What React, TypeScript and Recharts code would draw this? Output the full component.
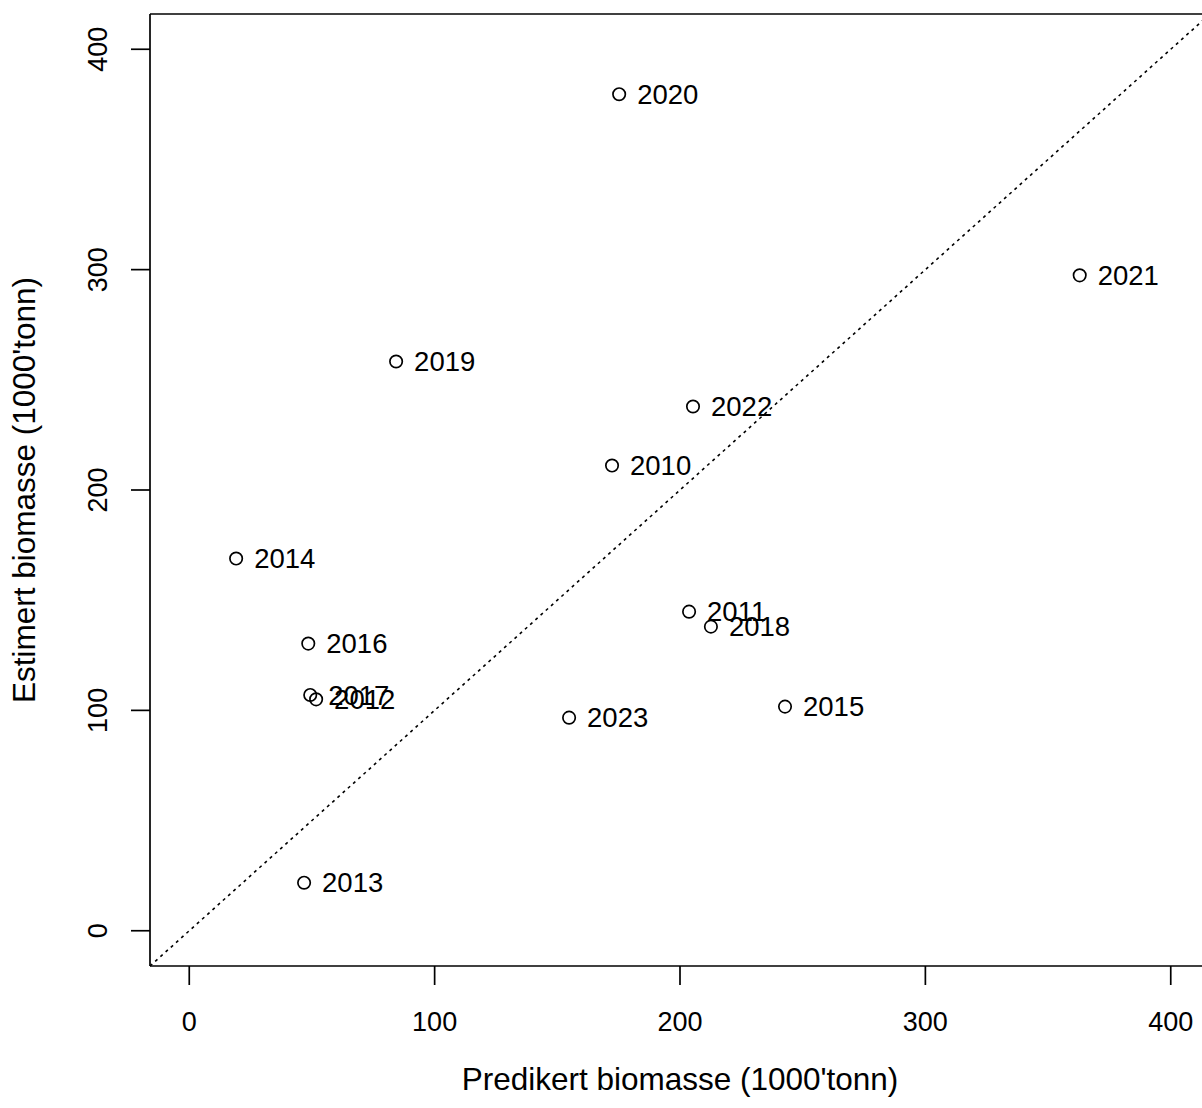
import { ScatterChart, Scatter, XAxis, YAxis, ReferenceLine } from "recharts";

const years = ["2010", "2011", "2012", "2013", "2014", "2015", "2016", "2017", "2018", "2019", "2020", "2021", "2022", "2023"];
const predicted = [172.3, 203.7, 51.7, 46.8, 19.1, 242.8, 48.5, 49.3, 212.6, 84.3, 175.2, 362.9, 205.3, 154.8];
const estimated = [211.1, 144.8, 105.0, 21.8, 168.9, 101.7, 130.3, 107.0, 138.0, 258.3, 379.6, 297.4, 237.9, 96.7];
const xTicks = [0, 100, 200, 300, 400];
const yTicks = [0, 100, 200, 300, 400];
const axisMin = -16;
const axisMax = 416;

const FONT = '"Liberation Sans", Arial, sans-serif';

const points = years.map((year, i) => ({ year, x: predicted[i], y: estimated[i] }));

function XTick(props: any) {
  const { x, y, payload } = props;
  return (
    <text x={x} y={y} dy="0.71em" textAnchor="middle" fontSize={27} fill="#000" fontFamily={FONT}>
      {payload.value}
    </text>
  );
}

function YTick(props: any) {
  const { x, y, payload } = props;
  return (
    <text x={x} y={y} transform={`rotate(-90 ${x} ${y})`} textAnchor="middle" fontSize={27} fill="#000" fontFamily={FONT}>
      {payload.value}
    </text>
  );
}

function Point(props: any) {
  const { cx, cy, payload } = props;
  return (
    <g>
      <circle cx={cx} cy={cy} r={6.2} fill="none" stroke="#000" strokeWidth={1.7} />
      <text x={cx + 18} y={cy} dy="0.35em" fontSize={27.5} fill="#000" fontFamily={FONT}>
        {payload.year}
      </text>
    </g>
  );
}

export default function App() {
  return (
    <div style={{ position: "absolute", left: 0, top: 0, width: 1202, height: 1108, overflow: "hidden", background: "#fff" }}>
      <ScatterChart width={1210} height={1108} margin={{ top: 14, right: 0, bottom: 0, left: 0 }} style={{ fontFamily: FONT }}>
        <XAxis
          type="number"
          dataKey="x"
          domain={[axisMin, axisMax]}
          ticks={xTicks}
          interval={0}
          allowDataOverflow
          height={142}
          tickSize={19}
          tickMargin={27}
          tick={<XTick />}
          axisLine={{ stroke: "#000", strokeWidth: 1.7 }}
          tickLine={{ stroke: "#000", strokeWidth: 1.7 }}
          label={(p: any) => {
            const vb = p.viewBox;
            return (
              <text x={vb.x + vb.width / 2} y={vb.y + 124} textAnchor="middle" fontSize={31.5} fill="#000" fontFamily={FONT}>
                Predikert biomasse (1000'tonn)
              </text>
            );
          }}
        />
        <YAxis
          type="number"
          dataKey="y"
          domain={[axisMin, axisMax]}
          ticks={yTicks}
          interval={0}
          allowDataOverflow
          width={150}
          tickSize={19}
          tickMargin={24}
          tick={<YTick />}
          axisLine={{ stroke: "#000", strokeWidth: 1.7 }}
          tickLine={{ stroke: "#000", strokeWidth: 1.7 }}
          label={(p: any) => {
            const vb = p.viewBox;
            const cx = vb.x + 35;
            const cy = vb.y + vb.height / 2;
            return (
              <text x={cx} y={cy} transform={`rotate(-90 ${cx} ${cy})`} textAnchor="middle" fontSize={31.5} fill="#000" fontFamily={FONT}>
                Estimert biomasse (1000'tonn)
              </text>
            );
          }}
        />
        <ReferenceLine y={axisMax} stroke="#000" strokeWidth={1.7} />
        <ReferenceLine x={axisMax} stroke="#000" strokeWidth={1.7} />
        <ReferenceLine
          segment={[{ x: axisMin, y: axisMin }, { x: axisMax, y: axisMax }]}
          stroke="#000"
          strokeWidth={1.6}
          strokeDasharray="3 4"
        />
        <Scatter data={points} shape={<Point />} isAnimationActive={false} />
      </ScatterChart>
    </div>
  );
}
